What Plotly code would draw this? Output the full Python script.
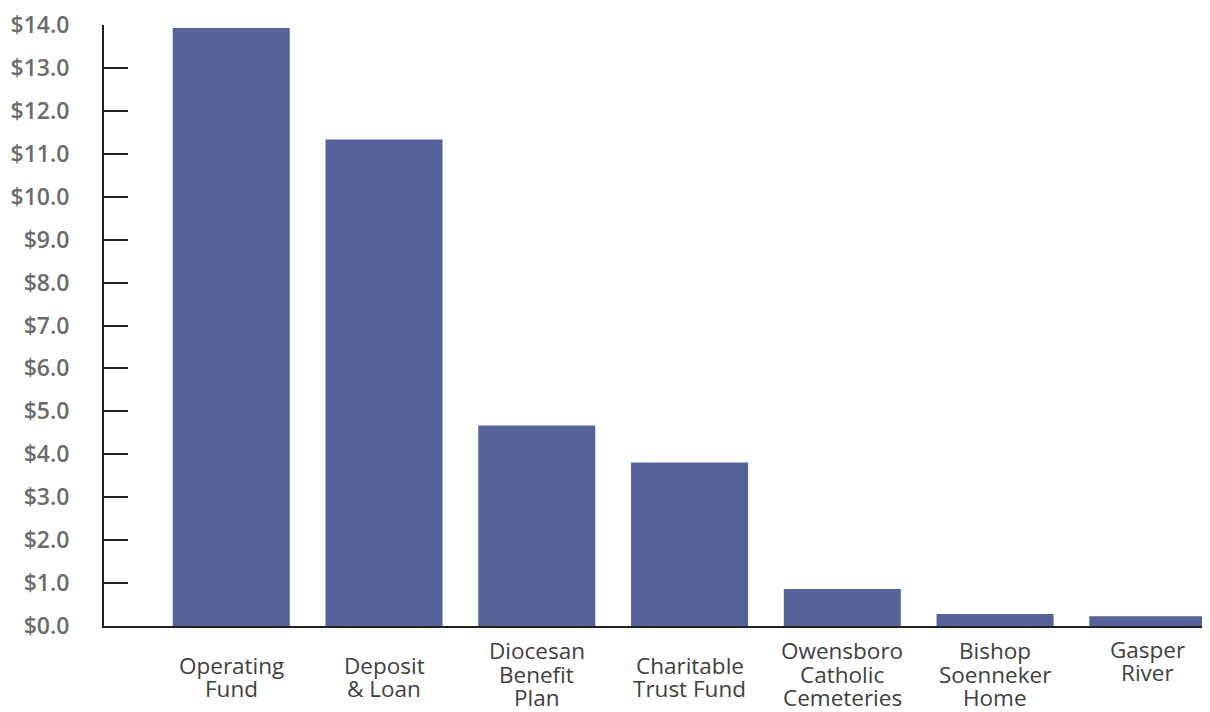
import plotly.graph_objects as go

categories = ["Operating<br>Fund", "Deposit<br>& Loan", "Diocesan<br>Benefit<br>Plan",
              "Charitable<br>Trust Fund", "Owensboro<br>Catholic<br>Cemeteries",
              "Bishop<br>Soenneker<br>Home", "Gasper<br>River"]
values = [13.93, 11.33, 4.67, 3.81, 0.86, 0.28, 0.23]
tick_vals = list(range(0, 15))
tick_text = ["$%d.0" % v for v in tick_vals]

BAR = "#56639a"
FONT = "Open Sans"
LINE_H = 23.5

fig = go.Figure()
fig.add_trace(go.Bar(x=list(range(len(categories))), y=values,
                     marker=dict(color=BAR, line=dict(width=0)),
                     width=0.766, hoverinfo="skip"))

for i, c in enumerate(categories):
    lines = c.split("<br>")
    n = len(lines)
    if i == len(categories) - 1:
        center = 35
    elif n == 3:
        center = 48
    else:
        center = 51
    for j, ln in enumerate(lines):
        fig.add_annotation(x=i, y=0, xref="x", yref="paper", text=ln, showarrow=False,
                           xanchor="center", yanchor="middle", align="center",
                           borderpad=0,
                           yshift=-(center + (j - (n - 1) / 2) * LINE_H),
                           font=dict(family=FONT, size=22.5, color="#404040"))

fig.update_layout(
    width=1202, height=704,
    margin=dict(l=96, r=0, t=15, b=86),
    paper_bgcolor="white", plot_bgcolor="white",
    showlegend=False,
    xaxis=dict(range=[-0.833, 6.407], showticklabels=False, ticks="", showgrid=False,
               zeroline=False, showline=True, linecolor="#222222", linewidth=2),
    yaxis=dict(range=[0, 14], tickvals=tick_vals, ticktext=tick_text, ticks="inside",
               ticklen=24, tickwidth=2, tickcolor="#222222", showgrid=False, zeroline=False,
               showline=True, linecolor="#222222", linewidth=2, ticklabelstandoff=28,
               ticklabeloverflow="allow",
               tickfont=dict(family=FONT, size=23, color="#6b6b6b", weight=600)),
)
fig.write_html("out.html")
